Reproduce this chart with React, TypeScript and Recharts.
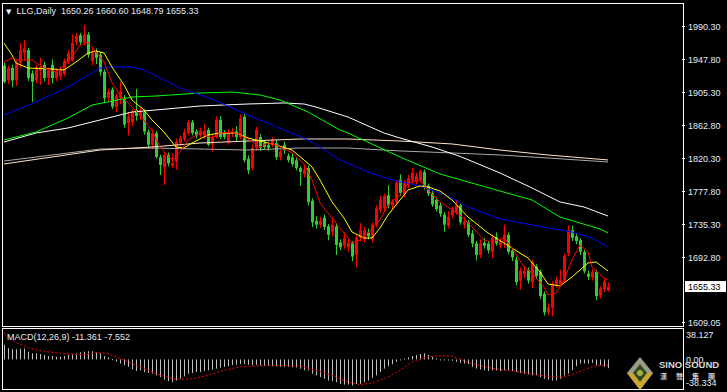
import React from 'react';
import { ComposedChart, Bar, Line, XAxis, YAxis, ReferenceLine } from 'recharts';

const TITLE = 'LLG,Daily';
const MACD_TITLE = 'MACD(12,26,9) -11.361 -7.552';

const openP = [
  1940, 1921, 1937, 1921, 1943, 1956, 1960, 1930, 1921, 1933,
  1941, 1924, 1941, 1924, 1926, 1929, 1945, 1946, 1970, 1979,
  1970, 1980, 1946, 1958, 1954, 1932, 1898, 1909, 1887, 1898,
  1898, 1866, 1867, 1883, 1875, 1880, 1855, 1838, 1853, 1822,
  1809, 1825, 1811, 1816, 1840, 1845, 1853, 1867, 1855, 1850,
  1850, 1857, 1838, 1848, 1870, 1853, 1841, 1853, 1855, 1848,
  1874, 1820, 1808, 1834, 1848, 1840, 1838, 1838, 1840, 1822,
  1838, 1824, 1822, 1818, 1808, 1800, 1808, 1766, 1740, 1735,
  1744, 1733, 1726, 1733, 1712, 1708, 1706, 1711, 1696, 1718,
  1716, 1725, 1716, 1735, 1754, 1756, 1773, 1760, 1764, 1793,
  1774, 1786, 1792, 1791, 1792, 1803, 1785, 1776, 1767, 1760,
  1748, 1734, 1747, 1750, 1760, 1735, 1738, 1724, 1711, 1696,
  1712, 1711, 1700, 1719, 1708, 1714, 1722, 1702, 1690, 1663,
  1671, 1676, 1661, 1681, 1674, 1646, 1622, 1628, 1658, 1658,
  1663, 1698, 1728, 1720, 1715, 1700, 1672, 1667, 1674, 1644,
  1652, 1650.26,
];
const highP = [
  1944, 1940, 1941, 1947, 1969, 1973, 1963, 1934, 1941, 1950,
  1945, 1937, 1948, 1936, 1938, 1949, 1960, 1980, 1982, 1982,
  1992, 1983, 1962, 1962, 1958, 1935, 1910, 1912, 1904, 1919,
  1902, 1880, 1884, 1910, 1886, 1884, 1858, 1858, 1856, 1825,
  1828, 1828, 1827, 1846, 1850, 1858, 1870, 1870, 1858, 1860,
  1865, 1860, 1851, 1874, 1875, 1857, 1858, 1860, 1862, 1877,
  1879, 1824, 1838, 1861, 1852, 1844, 1842, 1848, 1844, 1832,
  1842, 1827, 1826, 1821, 1810, 1812, 1811, 1769, 1746, 1745,
  1748, 1736, 1745, 1736, 1716, 1725, 1716, 1714, 1722, 1737,
  1732, 1730, 1738, 1760, 1772, 1775, 1786, 1768, 1792, 1800,
  1793, 1799, 1808, 1802, 1806, 1806, 1788, 1779, 1770, 1763,
  1751, 1752, 1758, 1767, 1762, 1745, 1741, 1728, 1714, 1716,
  1718, 1714, 1722, 1725, 1717, 1735, 1725, 1705, 1694, 1680,
  1682, 1680, 1690, 1684, 1677, 1649, 1634, 1662, 1668, 1677,
  1698, 1734, 1734, 1724, 1718, 1703, 1676, 1678, 1677, 1656,
  1666, 1660.6,
];
const lowP = [
  1917, 1916, 1912, 1914, 1937, 1947, 1920, 1893, 1917, 1915,
  1920, 1915, 1917, 1920, 1922, 1926, 1942, 1945, 1966, 1966,
  1966, 1950, 1940, 1942, 1927, 1892, 1894, 1884, 1880, 1890,
  1860, 1850, 1862, 1869, 1870, 1851, 1833, 1832, 1820, 1799,
  1786, 1810, 1808, 1806, 1836, 1842, 1850, 1850, 1846, 1847,
  1846, 1836, 1829, 1846, 1845, 1845, 1838, 1848, 1843, 1845,
  1815, 1800, 1805, 1830, 1830, 1832, 1830, 1835, 1818, 1818,
  1826, 1815, 1810, 1805, 1785, 1796, 1760, 1732, 1730, 1731,
  1728, 1715, 1720, 1696, 1702, 1704, 1700, 1688, 1680, 1714,
  1712, 1716, 1712, 1732, 1750, 1752, 1756, 1755, 1760, 1772,
  1770, 1782, 1788, 1787, 1789, 1780, 1772, 1758, 1752, 1745,
  1726, 1730, 1744, 1748, 1735, 1730, 1719, 1706, 1689, 1692,
  1704, 1698, 1692, 1708, 1704, 1705, 1697, 1688, 1657, 1651,
  1666, 1659, 1653, 1665, 1639, 1618, 1619, 1617, 1654, 1655,
  1660, 1694, 1714, 1710, 1696, 1672, 1664, 1663, 1638, 1640,
  1648, 1648.79,
];
const closeP = [
  1919, 1937, 1921, 1943, 1960, 1962, 1924, 1919, 1938, 1938,
  1924, 1934, 1924, 1932, 1935, 1946, 1956, 1969, 1978, 1970,
  1980, 1954, 1956, 1950, 1932, 1898, 1906, 1887, 1901, 1906,
  1864, 1874, 1880, 1875, 1882, 1855, 1838, 1853, 1822, 1812,
  1825, 1814, 1814, 1842, 1847, 1854, 1867, 1853, 1850, 1856,
  1856, 1838, 1848, 1870, 1848, 1848, 1854, 1855, 1848, 1872,
  1818, 1805, 1834, 1857, 1834, 1835, 1834, 1844, 1822, 1829,
  1831, 1818, 1813, 1808, 1803, 1806, 1764, 1738, 1735, 1740,
  1732, 1722, 1735, 1709, 1706, 1718, 1712, 1694, 1718, 1728,
  1728, 1720, 1735, 1756, 1767, 1772, 1760, 1765, 1789, 1776,
  1790, 1795, 1802, 1798, 1804, 1784, 1775, 1761, 1755, 1749,
  1735, 1745, 1756, 1760, 1738, 1739, 1722, 1711, 1696, 1711,
  1708, 1702, 1718, 1711, 1714, 1722, 1700, 1693, 1661, 1676,
  1675, 1663, 1687, 1669, 1643, 1622, 1629, 1658, 1664, 1664,
  1695, 1728, 1718, 1714, 1700, 1675, 1668, 1674, 1643, 1653,
  1662, 1655.33,
];

// moving averages at selected bars: [bar index, price]
const maRedPts: [number, number][] = [
  [0, 1944.6], [2, 1949.7], [4, 1947.1], [7, 1947.1], [10, 1936.8], [13, 1931.7], [15, 1940.7],
  [17, 1951.0], [19, 1966.5], [21, 1970.3], [23, 1957.5], [25, 1944.6], [27, 1917.5], [29, 1902.1],
  [32, 1886.6], [34, 1876.3], [37, 1856.0], [39, 1835.1], [42, 1818.4], [43, 1821.0], [46, 1844.1],
  [49, 1853.1], [52, 1846.7], [54, 1853.1], [57, 1854.4], [59, 1850.6], [62, 1842.0], [64, 1835.1],
  [66, 1840.2], [68, 1837.7], [72, 1827.4], [75, 1813.2], [77, 1792.6], [79, 1763.0], [82, 1743.6],
  [85, 1724.3], [87, 1711.4], [89, 1715.3], [91, 1724.3], [94, 1741.1], [96, 1760.4], [99, 1773.3],
  [101, 1788.7], [104, 1792.6], [106, 1779.7], [109, 1764.3], [112, 1754.0], [114, 1747.5],
  [117, 1732.1], [120, 1715.3], [122, 1712.7], [125, 1717.9], [127, 1705.0], [130, 1680.5],
  [132, 1672.8], [135, 1654.8], [136, 1644.5], [138, 1647.0], [140, 1663.8], [142, 1689.6],
  [144, 1708.9], [146, 1699.8], [147, 1680.5], [150, 1666.4], [151, 1663.8],
];
const maYellowPts: [number, number][] = [
  [0, 1969.0], [2, 1953.6], [3, 1943.3], [6, 1936.8], [12, 1935.6], [15, 1934.3], [18, 1944.6],
  [21, 1956.2], [23, 1958.7], [25, 1956.2], [27, 1938.1], [30, 1915.0], [32, 1895.6], [35, 1882.8],
  [37, 1869.9], [40, 1854.4], [43, 1835.1], [45, 1833.8], [47, 1840.2], [51, 1850.6], [54, 1853.1],
  [58, 1853.1], [61, 1846.7], [65, 1841.5], [68, 1837.7], [72, 1831.2], [75, 1818.4], [77, 1809.3],
  [79, 1792.6], [82, 1764.3], [85, 1743.6], [87, 1725.6], [90, 1717.9], [92, 1717.9], [94, 1730.8],
  [96, 1747.5], [99, 1766.8], [101, 1779.7], [104, 1784.9], [106, 1783.6], [109, 1778.4],
  [112, 1766.8], [116, 1744.9], [121, 1724.3], [125, 1711.4], [131, 1692.1], [134, 1674.1],
  [136, 1658.6], [139, 1656.1], [142, 1667.6], [146, 1685.7], [148, 1687.0], [151, 1675.4],
];
const maBluePts: [number, number][] = [
  [0, 1876.3], [8, 1893.0], [16, 1912.4], [22, 1930.4], [24, 1936.8], [27, 1938.1], [32, 1938.1],
  [35, 1934.3], [39, 1924.0], [44, 1911.1], [49, 1902.1], [52, 1896.9], [61, 1876.3], [70, 1857.0],
  [76, 1844.1], [84, 1818.4], [91, 1802.9], [97, 1792.6], [104, 1784.9], [111, 1772.0],
  [116, 1757.8], [124, 1742.4], [132, 1734.6], [139, 1728.2], [142, 1725.6], [147, 1717.9],
  [151, 1706.3],
];
const maGreenPts: [number, number][] = [
  [0, 1844.1], [8, 1854.4], [16, 1872.4], [22, 1889.2], [26, 1893.1], [32, 1899.5], [38, 1900.8],
  [49, 1904.6], [57, 1905.9], [64, 1902.1], [69, 1895.6], [76, 1880.2], [84, 1857.0], [86, 1853.1],
  [99, 1822.2], [109, 1800.3], [124, 1778.4], [132, 1766.8], [139, 1744.9], [149, 1729.5],
  [151, 1724.3],
];
const maWhitePts: [number, number][] = [
  [0, 1841.5], [8, 1853.1], [16, 1859.6], [24, 1869.9], [32, 1880.2], [38, 1882.8], [49, 1887.9],
  [61, 1890.5], [70, 1891.8], [75, 1890.5], [78, 1886.6], [86, 1873.7], [95, 1853.1], [99, 1846.7],
  [107, 1835.1], [113, 1824.8], [115, 1820.9], [124, 1801.6], [132, 1782.3], [139, 1764.3],
  [145, 1757.8], [151, 1746.2],
];
const maBeigePts: [number, number][] = [
  [0, 1813.2], [24, 1831.2], [37, 1835.1], [49, 1840.2], [61, 1842.8], [74, 1845.4], [86, 1845.4],
  [99, 1842.8], [112, 1839.0], [124, 1831.2], [136, 1824.8], [151, 1818.4],
];
const maGrayPts: [number, number][] = [
  [0, 1817.0], [24, 1832.5], [37, 1833.8], [49, 1832.5], [61, 1831.2], [74, 1833.8], [86, 1833.8],
  [99, 1830.0], [112, 1827.4], [124, 1824.8], [136, 1820.9], [151, 1815.8],
];

const macdHist = [
  18.9, 14.5, 13.2, 13.2, 14.1, 14.1, 10.1, 7.9, 7.9, 7.0,
  5.7, 4.4, 4.4, 3.5, 3.5, 4.4, 5.7, 6.6, 7.9, 9.2,
  10.1, 10.6, 10.6, 9.7, 7.9, 4.4, 2.6, 0.4, -2.6, -5.3,
  -7.5, -9.7, -12.8, -15.0, -14.1, -16.3, -17.6, -18.5, -20.7, -22.9,
  -26.0, -28.2, -29.5, -27.3, -25.1, -22.0, -18.5, -17.6, -16.3, -16.3,
  -15.0, -14.1, -13.2, -11.9, -10.6, -9.7, -8.8, -7.5, -6.6, -6.2,
  -6.2, -7.0, -7.5, -7.0, -7.9, -8.4, -8.4, -8.8, -9.2, -9.7,
  -9.7, -9.7, -10.2, -10.6, -12.0, -14.1, -14.1, -18.5, -20.7, -22.9,
  -25.1, -27.3, -28.2, -29.5, -31.7, -32.6, -32.6, -33.9, -31.7, -31.7,
  -29.5, -27.3, -23.8, -20.7, -16.3, -11.9, -8.8, -6.2, -3.1, -0.9,
  1.3, 2.6, 4.4, 5.7, 7.0, 7.9, 5.7, 3.5, 1.3, 0.0,
  -0.9, -0.9, -1.8, -3.1, -4.4, -5.3, -6.2, -9.7, -11.9, -13.2,
  -14.1, -15.0, -14.1, -14.1, -15.0, -14.1, -14.1, -15.0, -16.3, -17.6,
  -18.5, -19.4, -20.7, -20.7, -22.9, -25.1, -26.4, -27.3, -27.3, -25.1,
  -20.7, -18.5, -14.1, -8.8, -5.3, -5.3, -5.3, -4.4, -7.5, -7.5,
  -9.5, -11.361,
];
const signalPts: [number, number][] = [
  [0, 34.0], [3, 22.0], [6, 15.0], [9, 11.4], [14, 7.9], [20, 5.7], [23, 8.8], [26, 7.9],
  [29, 1.3], [32, -5.3], [38, -18.5], [43, -26.0], [47, -25.1], [51, -20.7], [55, -14.1],
  [59, -9.7], [66, -7.5], [74, -8.8], [78, -14.1], [82, -20.7], [86, -29.5], [89, -32.6],
  [92, -30.8], [96, -22.9], [99, -14.1], [102, -3.1], [105, 2.2], [108, 4.8], [112, 4.4],
  [114, 0.4], [117, -5.3], [121, -10.6], [124, -13.2], [128, -15.4], [132, -18.5], [137, -22.9],
  [140, -22.9], [143, -17.6], [147, -9.7], [149, -7.5], [151, -7.552],
];

const priceTicks = [1609.05, 1692.8, 1735.3, 1777.8, 1820.3, 1862.8, 1905.3, 1947.8, 1990.3];
const macdTicks = [38.127, 0, -38.334];
const PRICE_DOMAIN: [number, number] = [1604.5, 2019.3];
const MACD_DOMAIN: [number, number] = [-38.334, 38.127];
const TOTAL_SLOTS = 170;

const toMap = (pts: [number, number][]) => {
  const m: Record<number, number> = {};
  pts.forEach(([i, v]) => { m[i] = v; });
  return m;
};
const mRed = toMap(maRedPts), mYel = toMap(maYellowPts), mBlu = toMap(maBluePts), mGrn = toMap(maGreenPts);
const mWht = toMap(maWhitePts), mBei = toMap(maBeigePts), mGry = toMap(maGrayPts), mSig = toMap(signalPts);

const rows = Array.from({ length: TOTAL_SLOTS }, (_, i) => {
  const has = i < closeP.length;
  return {
    i,
    open: has ? openP[i] : null,
    high: has ? highP[i] : null,
    low: has ? lowP[i] : null,
    close: has ? closeP[i] : null,
    red: mRed[i] ?? null,
    yellow: mYel[i] ?? null,
    blue: mBlu[i] ?? null,
    green: mGrn[i] ?? null,
    white: mWht[i] ?? null,
    beige: mBei[i] ?? null,
    gray: mGry[i] ?? null,
    macd: has ? macdHist[i] : null,
    signal: mSig[i] ?? null,
  };
});
const lastClose = closeP[closeP.length - 1];

const TXT = '#e4ebf3';
const FONT = "'Liberation Sans', Arial, sans-serif";

const Candle = (props: any) => {
  const { x, y, width, height, payload } = props;
  if (!payload || payload.close == null) return null;
  const { open, close, high, low } = payload;
  const top = Math.min(y, y + height);
  const h = Math.abs(height);
  const k = high > low ? h / (high - low) : 0;
  const yO = top + (high - open) * k;
  const yC = top + (high - close) * k;
  const up = close >= open;
  const color = up ? '#ff0000' : '#32cd32';
  const cx = Math.floor(x + width / 2) + 0.5;
  const bTop = Math.min(yO, yC);
  const bH = Math.max(1, Math.abs(yC - yO));
  return (
    <g>
      <line x1={cx} x2={cx} y1={top} y2={top + h} stroke={color} strokeWidth={1} />
      <rect x={cx - 1.5} y={bTop} width={3} height={bH} fill={color} />
    </g>
  );
};

const HistBar = (props: any) => {
  const { x, y, width, height } = props;
  if (height == null || isNaN(height)) return null;
  const top = Math.min(y, y + height);
  const h = Math.max(1, Math.abs(height));
  const cx = Math.floor(x + width / 2);
  return <rect x={cx} y={top} width={1} height={h} fill="#c0c0c0" />;
};

const PriceTag = (props: any) => {
  const vb = props.viewBox || {};
  const x = (vb.x || 0) + (vb.width || 0) + 3;
  const y = vb.y || 0;
  return (
    <g>
      <rect x={x} y={y - 5.5} width={41} height={11} fill="#ffffff" />
      <text x={x + 3} y={y} dy="0.355em" fontSize={9} fontFamily={FONT} fill="#000000">
        {lastClose.toFixed(2)}
      </text>
    </g>
  );
};

const MacdTick = (props: any) => {
  const { x, y, payload } = props;
  const v = payload.value;
  const dy = v > 0 ? 5 : v < 0 ? -6 : 0;
  const label = v === 0 ? '0.00' : v.toFixed(3);
  return (
    <text x={x} y={y + dy} dy="0.355em" textAnchor="start" fontSize={9} fontFamily={FONT} fill={TXT}>
      {label}
    </text>
  );
};

const lineProps = { type: 'linear' as const, dot: false, activeDot: false, connectNulls: true, isAnimationActive: false, strokeWidth: 1 };

export default function App() {
  return (
    <div style={{ position: 'absolute', left: 0, top: 0, width: 727, height: 392, background: '#000', overflow: 'hidden' }}>
      <div style={{ position: 'absolute', left: 0, top: 0 }}>
        <ComposedChart width={727} height={327} data={rows} margin={{ top: 4, right: 0, bottom: 1, left: 2 }}>
          <XAxis dataKey="i" hide />
          <YAxis
            orientation="right"
            width={45}
            domain={PRICE_DOMAIN}
            allowDataOverflow
            ticks={priceTicks}
            interval={0}
            tickFormatter={(v: number) => v.toFixed(2)}
            tick={{ fill: TXT, fontSize: 9, fontFamily: FONT }}
            tickLine={{ stroke: '#ffffff' }}
            tickSize={3}
            tickMargin={3}
            axisLine={false}
          />
          <Bar dataKey={(d: any) => (d.close == null ? null : [d.low, d.high])} shape={Candle} barSize={3} isAnimationActive={false} />
          <Line dataKey="gray" stroke="#a9a9a9" {...lineProps} />
          <Line dataKey="beige" stroke="#ffe4c4" {...lineProps} />
          <Line dataKey="white" stroke="#ffffff" {...lineProps} />
          <Line dataKey="green" stroke="#00ff00" {...lineProps} />
          <Line dataKey="blue" stroke="#0000ff" {...lineProps} />
          <Line dataKey="yellow" stroke="#ffff00" {...lineProps} />
          <Line dataKey="red" stroke="#ff0000" {...lineProps} />
          <ReferenceLine y={lastClose} stroke="none" label={<PriceTag />} />
        </ComposedChart>
      </div>
      <div style={{ position: 'absolute', left: 0, top: 327 }}>
        <ComposedChart width={727} height={65} data={rows} margin={{ top: 3, right: 0, bottom: 3, left: 2 }}>
          <XAxis dataKey="i" hide />
          <YAxis
            orientation="right"
            width={45}
            domain={MACD_DOMAIN}
            allowDataOverflow
            ticks={macdTicks}
            interval={0}
            tick={<MacdTick />}
            tickLine={false}
            tickSize={0}
            tickMargin={4}
            axisLine={false}
          />
          <Bar dataKey="macd" shape={HistBar} barSize={1} isAnimationActive={false} />
          <Line dataKey="signal" stroke="#ff0000" strokeDasharray="2 2" {...lineProps} />
        </ComposedChart>
      </div>
      {/* panel frames */}
      <div style={{ position: 'absolute', left: 2, top: 3, width: 680, height: 322, border: '1px solid #ffffff', pointerEvents: 'none' }} />
      <div style={{ position: 'absolute', left: 2, top: 328, width: 680, height: 60, border: '1px solid #ffffff', pointerEvents: 'none' }} />
      {/* titles */}
      <div style={{ position: 'absolute', left: 6, top: 5, fontFamily: FONT, fontSize: 9, color: TXT, whiteSpace: 'pre', lineHeight: '12px' }}>
        <span style={{ fontFamily: "'DejaVu Sans', sans-serif", fontSize: 7 }}>▼</span>
        {'  ' + TITLE + '  ' + [openP[151], highP[151], lowP[151], closeP[151]].map((v) => v.toFixed(2)).join(' ')}
      </div>
      <div style={{ position: 'absolute', left: 7, top: 331, fontFamily: FONT, fontSize: 9, color: TXT, whiteSpace: 'pre', lineHeight: '12px' }}>
        {MACD_TITLE}
      </div>
      {/* watermark */}
      <svg style={{ position: 'absolute', left: 626, top: 356 }} width={101} height={36}>
        <polygon points="14,1 27,17 14,34 1,17" fill="#9a9a86" />
        <polygon points="1,17 27,17 14,34" fill="#c8a830" />
        <polygon points="14,8 21,17 14,26 7,17" fill="#2f4a22" />
        <circle cx={14} cy={17} r={3} fill="#9fb040" />
        <text x={33} y={12} fontFamily={FONT} fontWeight="bold" fontSize={9.5} fill="#d8d8d8">SINO SOUND</text>
        <text x={34} y={23} fontFamily="'Noto Sans CJK TC', sans-serif" fontWeight="bold" fontSize={7} fill="#d0d0d0" letterSpacing={9}>漢聲集團</text>
      </svg>
    </div>
  );
}
